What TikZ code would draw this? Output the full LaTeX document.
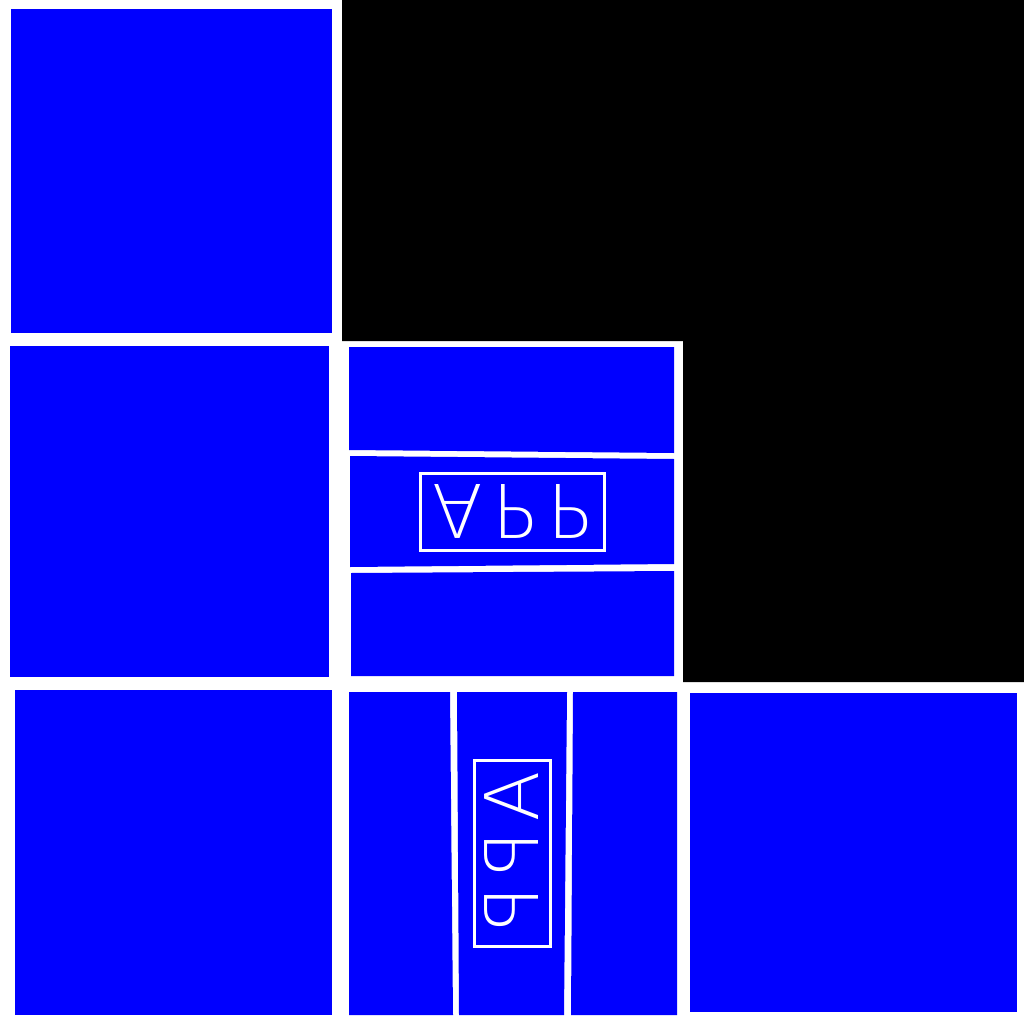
\documentclass[tikz,border=0pt]{standalone}
\usepackage{fontspec}
\usepackage{graphicx}
\IfFontExistsTF{DejaVu Sans ExtraLight}{\newfontfamily\thinf{DejaVu Sans ExtraLight}}{%
  \IfFontExistsTF{Fira Sans Light}{\newfontfamily\thinf{Fira Sans Light}}{%
    \newfontfamily\thinf{Liberation Sans}}}
\definecolor{pureblue}{RGB}{0,0,255}
\tikzset{
  cell/.style={fill=pureblue},
  appbox/.style={draw=white, line width=3pt},
  apptext/.style={text=white, inner sep=0pt, font=\thinf\fontsize{74}{74}\selectfont}
}
\begin{document}
\begin{tikzpicture}[x=1pt,y=-1pt]
\useasboundingbox (0,0) rectangle (1024,1024);
\fill[white] (0,0) rectangle (1024,1024);
% black region
\fill[black] (342,0) -- (1024,0) -- (1024,682) -- (683,682) -- (683,341) -- (342,341) -- cycle;
% left column
\fill[cell] (11,9) rectangle (332,333);
\fill[cell] (10,346) rectangle (329,677);
\fill[cell] (15,690) rectangle (332,1015);
% bottom right
\fill[cell] (690,693) rectangle (1017,1012);
% centre cell: horizontal strips
\fill[cell] (349,347) -- (674,347) -- (674,453) -- (349,450) -- cycle;
\fill[cell] (350,456) -- (674,459) -- (674,564) -- (350,567) -- cycle;
\fill[cell] (351,573) -- (674,571) -- (674,676) -- (351,676) -- cycle;
% bottom middle: vertical strips
\fill[cell] (349,692) -- (450,692) -- (453,1015) -- (349,1015) -- cycle;
\fill[cell] (457,692) -- (567,692) -- (564,1015) -- (459,1015) -- cycle;
\fill[cell] (573,692) -- (677,692) -- (677,1015) -- (571,1015) -- cycle;
% APP boxes
\draw[appbox] (420,473) rectangle (604,550);
\node[apptext] (app1) at (512,511) {\scalebox{1}[-1]{A\hspace{10pt}P\hspace{10pt}P}};
\draw[appbox] (474,760) rectangle (550,946);
\node[apptext] (app2) at (512,851) {\rotatebox{90}{\scalebox{-1}[1]{A\hspace{10pt}P\hspace{10pt}P}}};
\end{tikzpicture}
\end{document}
